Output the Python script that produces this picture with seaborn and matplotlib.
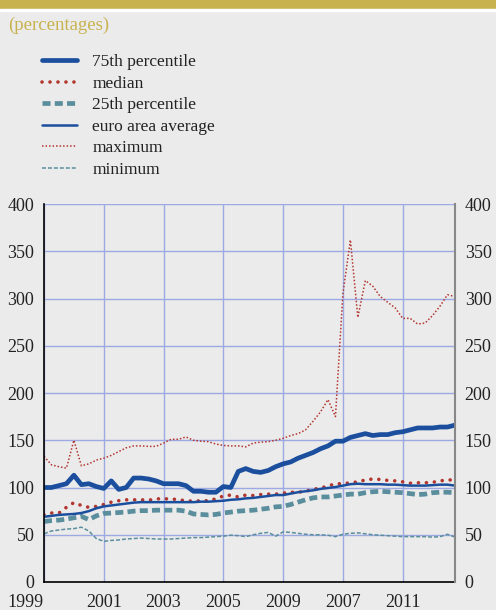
import matplotlib
matplotlib.use("Agg")
import matplotlib.pyplot as plt
from matplotlib.patches import Rectangle
import seaborn as sns
import numpy as np

# quarterly data, 1999Q1 - 2012Q4
quarters = [f"{y}Q{q}" for y in range(1999, 2013) for q in range(1, 5)]
tick_labels = ["1999", "2001", "2003", "2005", "2009", "2007", "2011", ""]

p75 = [100, 100, 102, 104, 113, 103, 104, 101, 99, 107,
       98, 100, 110, 110, 109, 107, 104, 104, 104, 102,
       96, 96, 95, 95, 101, 100, 117, 120, 117, 116,
       118, 122, 125, 127, 131, 134, 137, 141, 144, 149,
       149, 153, 155, 157, 155, 156, 156, 158, 159, 161,
       163, 163, 163, 164, 164, 166]
median = [71, 73, 73, 79, 84, 81, 79, 80, 82, 84.5,
          86, 87, 87, 87, 86.5, 88, 88, 88, 87, 86,
          85.5, 86, 86, 88, 91, 92, 90, 92, 91.5, 92.5,
          93, 93, 94, 95, 95, 96, 98, 99.5, 101.5, 104,
          104, 105, 106, 108, 109, 108.5, 107.5, 107, 106, 104.5,
          105, 105, 105.5, 107, 108, 108]
p25 = [64, 65, 65.5, 66.5, 68, 69.5, 66, 70, 72.5, 73,
       73.5, 74, 75, 75.5, 75.5, 76, 76, 76, 76, 75,
       72, 71.5, 71, 71.5, 73, 74, 75, 75.5, 76, 77,
       78, 79.5, 80, 82, 84.5, 87, 89, 90, 90, 91,
       92, 93, 93, 94.5, 95.5, 96, 95.5, 95, 94.5, 93.5,
       92.5, 93, 94.5, 95, 95, 94.5]
euro_avg = [69, 70, 71, 71.5, 72, 73, 75, 78, 80, 81,
            82, 83, 84, 84.5, 84.5, 84.5, 84.5, 84.5, 84.5, 84.5,
            84.5, 85, 85, 85.5, 86, 87, 87.5, 88.5, 89, 90,
            91, 92, 92, 93.5, 95, 96, 97, 98.5, 99.5, 100.5,
            102, 103.5, 104, 103.5, 103.5, 103.5, 103, 103, 102.5, 102,
            102, 102, 102.5, 103, 103, 102]
maximum = [133, 124, 122, 120.5, 150, 123, 125, 129, 131, 134,
           138, 142, 144, 144, 143.5, 143.5, 147, 151, 151, 153.5,
           150, 149, 148.5, 146, 144.5, 144, 144, 143, 147, 148,
           148.5, 150, 152, 155, 157, 161, 170, 180, 193, 175,
           305, 362, 280, 319, 313, 302, 296, 290, 279, 279,
           273, 274, 282, 292, 304, 302]
minimum = [51, 54, 55, 56, 56.5, 58, 54, 46, 43, 44,
           44.5, 45.5, 46, 46.5, 46, 45.5, 45.5, 45.5, 46, 46.5,
           47, 47, 47.5, 48, 48.5, 49.5, 49, 48, 50, 51.5,
           52.5, 48.5, 53, 52.5, 51.5, 50.5, 50, 50, 49.5, 48,
           50.5, 51.5, 52, 51, 50, 49.5, 49, 48.5, 48, 48,
           48, 48, 47.5, 48, 50.5, 47.5]

BLUE = "#1b4f9e"
RED = "#b2362f"
TEAL = "#5a8e9d"
GOLD = "#c8b24f"
GRID = "#9ca9e2"
BG = "#ebebeb"

sns.set_style("white")
plt.rcParams['font.family'] = ['Liberation Serif', 'DejaVu Serif']

x = np.arange(len(quarters))

fig = plt.figure(figsize=(4.96, 6.10), dpi=100, facecolor=BG)
ax = fig.add_axes([44 / 496, 28 / 610, 411 / 496, 378 / 610])
ax.set_facecolor(BG)

# --- series
sns.lineplot(x=x, y=p75, ax=ax, color=BLUE, lw=3.4, label="75th percentile")
sns.lineplot(x=x, y=median, ax=ax, color=RED, lw=2.6,
             linestyle=(0, (0.01, 2.2)), dash_capstyle="round", label="median")
sns.lineplot(x=x, y=p25, ax=ax, color=TEAL, lw=3.4,
             linestyle=(0, (1.7, 0.9)), label="25th percentile")
sns.lineplot(x=x, y=euro_avg, ax=ax, color=BLUE, lw=1.8, label="euro area average")
sns.lineplot(x=x, y=maximum, ax=ax, color=RED, lw=1.1,
             linestyle=(0, (1, 1.3)), label="maximum")
sns.lineplot(x=x, y=minimum, ax=ax, color=TEAL, lw=1.1,
             linestyle=(0, (2.6, 1.3)), label="minimum")

handles, labels = ax.get_legend_handles_labels()
ax.get_legend().remove()

tick_pos = list(range(0, len(x), 8)) + [len(x) - 1]
ax.set_xlim(0, len(x) - 1)
ax.set_ylim(0, 400)
ax.set_xticks(tick_pos)
ax.set_xticklabels(tick_labels)
ax.set_yticks(range(0, 401, 50))
ax.set_axisbelow(True)
ax.grid(True, color=GRID, lw=1)
ax.tick_params(axis="x", length=5, width=1.2, color="black", direction="out",
               pad=3.5, labelsize=13, labelcolor="#222222")
ax.tick_params(axis="y", length=0, pad=7, labelsize=13, labelcolor="#222222")
ax.get_xticklabels()[0].set_ha("right")
for s in ["top", "right"]:
    ax.spines[s].set_visible(False)
for s in ["left", "bottom"]:
    ax.spines[s].set_color("black")
    ax.spines[s].set_linewidth(1.2)

ax2 = ax.twinx()
ax2.set_ylim(0, 400)
ax2.set_yticks(range(0, 401, 50))
ax2.tick_params(axis="y", length=0, pad=7, labelsize=13, labelcolor="#222222")
for s in ["top", "left", "bottom"]:
    ax2.spines[s].set_visible(False)
ax2.spines["right"].set_color("#888888")
ax2.spines["right"].set_linewidth(1.5)

# --- header
fig.patches.append(Rectangle((0, 1 - 9 / 610), 1, 9 / 610,
                             transform=fig.transFigure, color=GOLD, zorder=0))
fig.patches.append(Rectangle((0, 1 - 11 / 610), 1, 2 / 610,
                             transform=fig.transFigure, color="white", zorder=0))
fig.text(8 / 496, 1 - 25 / 610, "(percentages)", color=GOLD, fontsize=13.5,
         va="center", ha="left")

fig.legend(handles, labels, loc="upper left",
           bbox_to_anchor=(42 / 496, 1 - 54 / 610), frameon=False,
           fontsize=12.5, handlelength=2.0, handletextpad=0.9,
           labelspacing=0.31, borderpad=0, borderaxespad=0,
           labelcolor="#222222")

fig.savefig("out.png", dpi=100, facecolor=BG)
